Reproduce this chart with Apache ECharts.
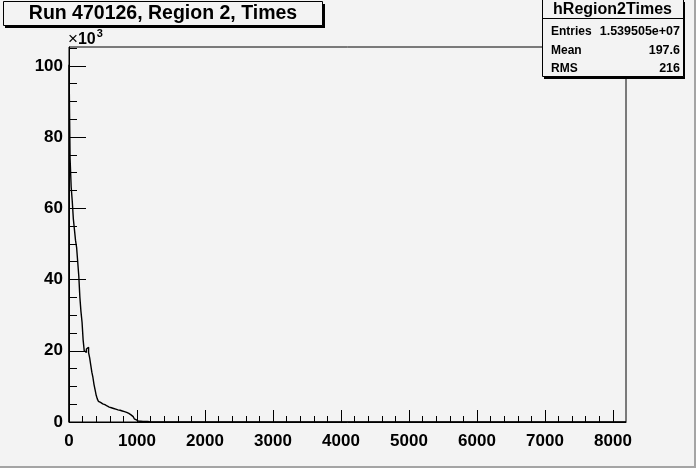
<!DOCTYPE html>
<html>
<head>
<meta charset="utf-8">
<script src="https://cdn.jsdelivr.net/npm/echarts@6/dist/echarts.min.js"></script>
<style>
html,body{margin:0;padding:0;background:#f3f3f3;}
#c{width:696px;height:468px;}
</style>
</head>
<body>
<div id="c"></div>
<script>
// Histogram hRegion2Times, bin width 16, lower edges start at 0
const binWidth = 16;
const xMax = 8192;
const counts = [
  100300, 74000, 66000, 62000, 57000, 54000, 51000, 49000,
  45000, 41000, 35000, 31000, 28000, 23000, 20000, 19500,
  20500, 21000, 19500, 18000, 16000, 14000, 12500, 10500,
  9000, 7500, 6500, 5800, 5500, 5300, 5100, 5000,
  4900, 4700, 4500, 4400, 4200, 4100, 4000, 3900,
  3800, 3700, 3600, 3500, 3400, 3350, 3300, 3200,
  3100, 3000, 2900, 2800, 2700, 2600, 2400, 2200,
  2000, 1700, 1500, 1200, 900, 600, 300, 200,
  200, 200, 150, 150, 150, 150, 150, 150,
  100, 100, 100
];
const xTickLabels = [0, 1000, 2000, 3000, 4000, 5000, 6000, 7000, 8000];
const xMinorTicks = [200,400,600,800,1200,1400,1600,1800,2200,2400,2600,2800,3200,3400,3600,3800,4200,4400,4600,4800,5200,5400,5600,5800,6200,6400,6600,6800,7200,7400,7600,7800];
const yTickLabels = [0, 20000, 40000, 60000, 80000, 100000];
const yMinorTicks = [5000,10000,15000,25000,30000,35000,45000,50000,55000,65000,70000,75000,85000,90000,95000,105000];
const yMax = 105300;
const titleText = 'Run 470126, Region 2, Times';
const statsName = 'hRegion2Times';
const statsRows = [['Entries', '1.539505e+07'], ['Mean', '197.6'], ['RMS', '216']];

const pts = [[0, 0]];
counts.forEach((v, i) => pts.push([i * binWidth, v]));
pts.push([counts.length * binWidth, 0]);
pts.push([xMax, 0]);

const FONT = 'Liberation Sans';
const BG = '#f3f3f3';
const chart = echarts.init(document.getElementById('c'), null, {renderer: 'canvas'});

const statsGraphics = [];
statsGraphics.push({type:'rect', shape:{x:544, y:2, width:141, height:77}, style:{fill:'#000'}, z:100});
statsGraphics.push({type:'rect', shape:{x:542.5, y:-0.5, width:141, height:77}, style:{fill:BG, stroke:'#000', lineWidth:1}, z:101});
statsGraphics.push({type:'line', shape:{x1:542.5, y1:18.5, x2:683.5, y2:18.5}, style:{stroke:'#000', lineWidth:1}, z:102});
statsGraphics.push({type:'text', x:612.5, y:10, style:{text:statsName, font:'bold 16px ' + FONT, fill:'#000', align:'center', verticalAlign:'middle'}, z:103});
const rowY = [32, 51, 69];
statsRows.forEach((r, i) => {
  statsGraphics.push({type:'text', x:551, y:rowY[i], style:{text:r[0], font:'bold 12px ' + FONT, fill:'#000', align:'left', verticalAlign:'middle'}, z:103});
  statsGraphics.push({type:'text', x:680, y:rowY[i], style:{text:r[1], font:'bold 12.5px ' + FONT, fill:'#000', align:'right', verticalAlign:'middle'}, z:103});
});

const option = {
  animation: false,
  backgroundColor: BG,
  grid: {left: 69, right: 70, top: 47, bottom: 46, show: true, borderColor: '#000', borderWidth: 1, backgroundColor: BG},
  xAxis: [{
    type: 'value', min: 0, max: xMax, position: 'bottom',
    axisLine: {show: true, onZero: false, lineStyle: {color: '#000', width: 1}},
    axisTick: {show: true, inside: true, length: 12, customValues: xTickLabels, lineStyle: {color: '#000'}},
    axisLabel: {customValues: xTickLabels, formatter: v => String(v), color: '#000', fontFamily: FONT, fontWeight: 'bold', fontSize: 17, margin: 11},
    splitLine: {show: false}
  }, {
    type: 'value', min: 0, max: xMax, position: 'bottom',
    axisLine: {show: false},
    axisTick: {show: true, inside: true, length: 6, customValues: xMinorTicks, lineStyle: {color: '#000'}},
    axisLabel: {show: false},
    splitLine: {show: false}
  }],
  yAxis: [{
    type: 'value', min: 0, max: yMax, position: 'left',
    axisLine: {show: true, onZero: false, lineStyle: {color: '#000', width: 1}},
    axisTick: {show: true, inside: true, length: 17, customValues: yTickLabels, lineStyle: {color: '#000'}},
    axisLabel: {customValues: yTickLabels, formatter: v => String(v / 1000), color: '#000', fontFamily: FONT, fontWeight: 'bold', fontSize: 17, margin: 6},
    splitLine: {show: false}
  }, {
    type: 'value', min: 0, max: yMax, position: 'left',
    axisLine: {show: false},
    axisTick: {show: true, inside: true, length: 8, customValues: yMinorTicks, lineStyle: {color: '#000'}},
    axisLabel: {show: false},
    splitLine: {show: false}
  }],
  series: [{
    type: 'line', xAxisIndex: 0, yAxisIndex: 0, data: pts, step: 'end',
    showSymbol: false, symbol: 'none', lineStyle: {color: '#000', width: 1.4}, z: 5
  }],
  graphic: [
    // canvas bevel
    {type:'rect', shape:{x:0, y:466, width:696, height:2}, style:{fill:'#a4a4a4'}, z:50},
    {type:'rect', shape:{x:694, y:0, width:2, height:468}, style:{fill:'#a4a4a4'}, z:50},
    // title box
    {type:'rect', shape:{x:5, y:4, width:320, height:24}, style:{fill:'#000'}, z:100},
    {type:'rect', shape:{x:3.5, y:1.5, width:319, height:24}, style:{fill:BG, stroke:'#000', lineWidth:1}, z:101},
    {type:'text', x:163, y:14, style:{text:titleText, font:'bold 19.5px ' + FONT, fill:'#000', align:'center', verticalAlign:'middle'}, z:102},
    // exponent label
    {type:'text', x:68, y:38, style:{text:'{a|×}{b|10}{c|3}', verticalAlign:'middle', rich:{
      a:{fontFamily:FONT, fontSize:17, fill:'#000', verticalAlign:'bottom'},
      b:{fontFamily:FONT, fontWeight:'bold', fontSize:16, fill:'#000', verticalAlign:'bottom'},
      c:{fontFamily:FONT, fontWeight:'bold', fontSize:11, fill:'#000', verticalAlign:'top', padding:[0,0,9,1]}
    }}, z:102}
  ].concat(statsGraphics)
};
chart.setOption(option);
</script>
</body>
</html>
